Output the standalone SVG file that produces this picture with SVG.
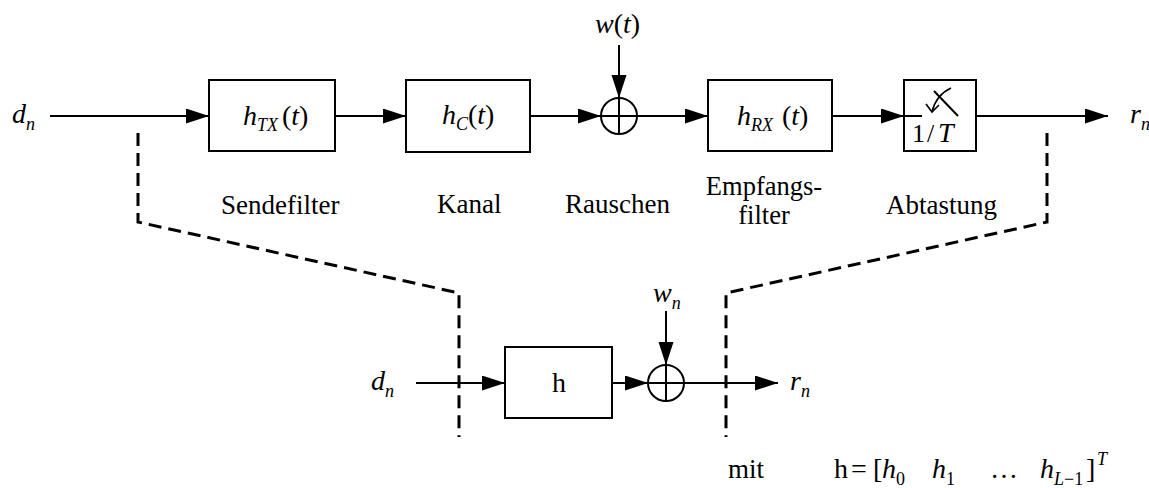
<svg xmlns="http://www.w3.org/2000/svg" width="1149" height="488" viewBox="0 0 1149 488">
<style>
.box{fill:#fff;stroke:#000;stroke-width:2}
.ln{fill:none;stroke:#000;stroke-width:2}
.ds{fill:none;stroke:#000;stroke-width:3;stroke-dasharray:13 7}
.t{font-family:"Liberation Serif","Times New Roman",serif;font-size:27px;fill:#000}
.m{font-family:"Liberation Serif","Times New Roman",serif;font-size:28px;fill:#000}
.i{font-style:italic}
.s{font-size:18px;font-style:italic}
.su{font-size:18px;font-style:normal}
</style>
<defs>
<marker id="ar" markerUnits="userSpaceOnUse" markerWidth="24" markerHeight="16" refX="23" refY="7.5" orient="auto">
<path d="M0,0 L23,7.5 L0,15 z" fill="#000"/>
</marker>
</defs>
<rect width="1149" height="488" fill="#fff"/>

<g id="connectors">
<line class="ln" x1="50" y1="116" x2="209" y2="116" marker-end="url(#ar)"/>
<line class="ln" x1="335" y1="116" x2="406" y2="116" marker-end="url(#ar)"/>
<line class="ln" x1="530" y1="116" x2="601" y2="116" marker-end="url(#ar)"/>
<line class="ln" x1="619" y1="45" x2="619" y2="98" marker-end="url(#ar)"/>
<line class="ln" x1="637" y1="116" x2="708" y2="116" marker-end="url(#ar)"/>
<line class="ln" x1="832" y1="116" x2="904" y2="116" marker-end="url(#ar)"/>
<line class="ln" x1="958" y1="116" x2="1108" y2="116" marker-end="url(#ar)"/>
<line class="ln" x1="416" y1="383" x2="505" y2="383" marker-end="url(#ar)"/>
<line class="ln" x1="612" y1="383" x2="648" y2="383" marker-end="url(#ar)"/>
<line class="ln" x1="666" y1="311" x2="666" y2="365" marker-end="url(#ar)"/>
<line class="ln" x1="684" y1="383" x2="778" y2="383" marker-end="url(#ar)"/>
<path class="ds" d="M138,133 V222 L459,293 V437"/>
<path class="ds" d="M1047,133 V222 L726,293 V437"/>
</g>

<g id="input-top">
<text class="m i" x="12" y="123">d<tspan class="s" dy="7">n</tspan></text>
</g>

<g id="sendefilter">
<rect class="box" x="209" y="80" width="126" height="71"/>
<text class="m" x="243" y="125"><tspan class="i">h</tspan><tspan class="s" dy="6">TX</tspan><tspan dy="-6" x="282">(</tspan><tspan class="i">t</tspan>)</text>
<text class="t" x="221" y="214">Sendefilter</text>
</g>

<g id="kanal">
<rect class="box" x="406" y="80" width="124" height="72"/>
<text class="m" x="442" y="124"><tspan class="i">h</tspan><tspan class="s" dy="6">C</tspan><tspan dy="-6" x="468">(</tspan><tspan class="i">t</tspan>)</text>
<text class="t" x="437" y="213">Kanal</text>
</g>

<g id="rauschen">
<circle class="ln" cx="619" cy="116" r="18"/>
<line class="ln" x1="619" y1="98" x2="619" y2="134"/>
<line class="ln" x1="601" y1="116" x2="637" y2="116"/>
<text class="m" x="595" y="33"><tspan class="i">w</tspan>(<tspan class="i">t</tspan>)</text>
<text class="t" x="565" y="213">Rauschen</text>
</g>

<g id="empfangsfilter">
<rect class="box" x="708" y="80" width="124" height="71"/>
<text class="m" x="737" y="125"><tspan class="i">h</tspan><tspan class="s" dy="6">RX</tspan><tspan dy="-6" x="782">(</tspan><tspan class="i">t</tspan>)</text>
<text class="t" x="764" y="195" text-anchor="middle" style="font-size:26.5px">Empfangs-</text>
<text class="t" x="764" y="224" text-anchor="middle" style="font-size:26.5px">filter</text>
</g>

<g id="abtastung">
<rect class="box" x="904" y="80" width="72" height="71"/>
<line class="ln" x1="904" y1="116" x2="922" y2="116"/>
<line class="ln" x1="958" y1="116" x2="934" y2="91"/>
<path d="M951,88 Q936,95 932,112" fill="none" stroke="#000" stroke-width="1.6"/>
<path d="M926,104 L932,112 L939,105" fill="none" stroke="#000" stroke-width="1.6"/>
<text class="m" x="912" y="142" style="font-size:26px">1<tspan x="927">/</tspan><tspan class="i" x="938" style="font-size:28px">T</tspan></text>
<text class="t" x="886" y="214">Abtastung</text>
</g>

<g id="output-top">
<text class="m i" x="1130" y="123">r<tspan class="s" dy="7">n</tspan></text>
</g>

<g id="input-bottom">
<text class="m i" x="371" y="390">d<tspan class="s" dy="7">n</tspan></text>
</g>

<g id="h-block">
<rect class="box" x="505" y="347" width="107" height="71"/>
<text class="m" x="552" y="392">h</text>
</g>

<g id="sum-bottom">
<circle class="ln" cx="666" cy="383" r="18"/>
<line class="ln" x1="666" y1="365" x2="666" y2="401"/>
<line class="ln" x1="648" y1="383" x2="684" y2="383"/>
<text class="m i" x="653" y="302">w<tspan class="s" dy="7">n</tspan></text>
</g>

<g id="output-bottom">
<text class="m i" x="790" y="390">r<tspan class="s" dy="7">n</tspan></text>
</g>

<g id="formula">
<text class="t" x="728" y="478">mit</text>
<text class="m" x="834" y="478">h<tspan x="851">=</tspan><tspan x="873">[</tspan><tspan class="i" x="882">h</tspan><tspan class="su" dy="7">0</tspan><tspan class="i" x="932" dy="-7">h</tspan><tspan class="su" dy="7">1</tspan><tspan x="990" dy="-7">…</tspan><tspan class="i" x="1040">h</tspan><tspan class="s" dy="7">L<tspan class="su">−1</tspan></tspan><tspan x="1086" dy="-7">]</tspan><tspan class="s" x="1097" dy="-13">T</tspan></text>
</g>
</svg>
